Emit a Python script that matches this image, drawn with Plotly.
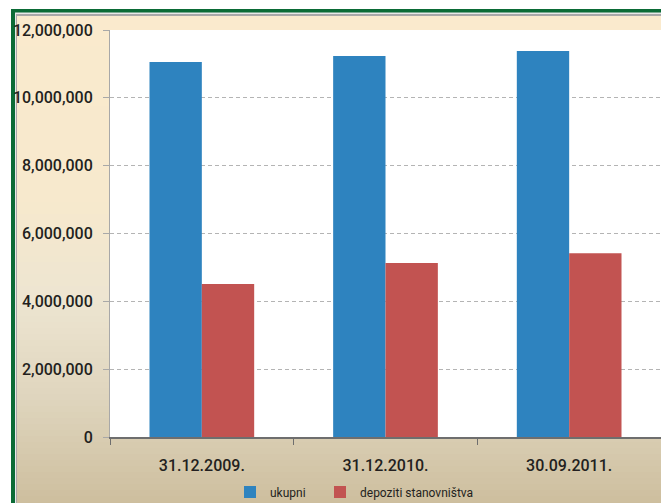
import plotly.graph_objects as go

categories = ["31.12.2009.", "31.12.2010.", "30.09.2011."]
ukupni = [11060000, 11230000, 11380000]
depoziti = [4510000, 5130000, 5420000]
series_names = ["ukupni", "depoziti stanovništva"]
colors = ["#2e83bf", "#c25351"]

W, H = 661, 503
ML, MR, MT, MB = 110, 0, 30, 66
PW, PH = W - ML - MR, H - MT - MB


def px(x):
    return (x - ML) / PW


def py(y):
    return (H - MB - y) / PH


FONT = "Roboto, Liberation Sans, sans-serif"
TXT = "#231f20"

fig = go.Figure()
fig.add_trace(go.Bar(x=categories, y=ukupni, name=series_names[0], marker_color=colors[0],
                     marker_line_width=0, legend="legend"))
fig.add_trace(go.Bar(x=categories, y=depoziti, name=series_names[1], marker_color=colors[1],
                     marker_line_width=0, legend="legend2"))

# background gradient stops (pixel y, rgb)
stops = [(16, (250, 234, 205)), (200, (247, 233, 205)), (300, (237, 229, 209)),
         (400, (223, 213, 189)), (503, (205, 190, 158))]


def col_at(y):
    for (y0, c0), (y1, c1) in zip(stops, stops[1:]):
        if y0 <= y <= y1:
            t = (y - y0) / (y1 - y0)
            return "rgb(%d,%d,%d)" % tuple(round(a + (b - a) * t) for a, b in zip(c0, c1))
    return "rgb(%d,%d,%d)" % stops[-1][1]


shapes = []
shapes.append(dict(type="rect", xref="paper", yref="paper", x0=px(-5), x1=px(W + 5), y0=py(H + 5), y1=py(-5),
                   fillcolor="white", line_width=0, layer="below"))
shapes.append(dict(type="rect", xref="paper", yref="paper", x0=px(11), x1=px(W + 5), y0=py(H + 5), y1=py(9),
                   fillcolor="#0b6b36", line_width=0, layer="below"))
shapes.append(dict(type="rect", xref="paper", yref="paper", x0=px(15), x1=px(W + 5), y0=py(H + 5), y1=py(12.5),
                   fillcolor="#e8e8e8", line_width=0, layer="below"))
shapes.append(dict(type="rect", xref="paper", yref="paper", x0=px(16), x1=px(W + 5), y0=py(H + 5), y1=py(14),
                   fillcolor="#a8a8a8", line_width=0, layer="below"))
step = 6
y = 16
while y < H:
    shapes.append(dict(type="rect", xref="paper", yref="paper", x0=px(17), x1=px(W + 5),
                       y0=py(y + step + 3), y1=py(y), fillcolor=col_at(y + step / 2),
                       line_width=0, layer="below"))
    y += step
shapes.append(dict(type="rect", xref="paper", yref="paper", x0=0, x1=1, y0=0, y1=1,
                   fillcolor="white", line_width=0, layer="below"))

leg_common = dict(orientation="h", xanchor="left", yanchor="middle", y=py(492),
                  font=dict(family=FONT, size=12, color=TXT), bgcolor="rgba(0,0,0,0)",
                  itemwidth=30)

fig.update_layout(
    width=W, height=H,
    margin=dict(l=ML, r=MR, t=MT, b=MB, pad=0, autoexpand=False),
    paper_bgcolor="white",
    plot_bgcolor="rgba(0,0,0,0)",
    barmode="group", bargap=0.43, bargroupgap=0,
    shapes=shapes,
    showlegend=True,
    legend=dict(x=px(230), **leg_common),
    legend2=dict(x=px(320), **leg_common),
    font=dict(family=FONT, color=TXT),
)
fig.update_xaxes(
    type="category", tickson="boundaries", ticks="outside", ticklen=6, tickcolor="#6e6e6e",
    tickwidth=1, showline=True, linecolor="#6e6e6e", linewidth=2, showgrid=False,
    tickfont=dict(family=FONT, size=16, color=TXT, weight=500), ticklabelstandoff=13,
)
fig.update_yaxes(
    range=[0, 12000000], dtick=2000000, tickformat=",", ticks="outside", ticklen=6,
    tickcolor="#a8a8a8", showline=True, linecolor="#a8a8a8", linewidth=1,
    showgrid=True, gridcolor="#b4b4b4", gridwidth=1, griddash="4px,3px", zeroline=False,
    tickfont=dict(family=FONT, size=16, color=TXT, weight=500), ticklabelstandoff=7,
)

fig.write_html("out.html", config={"displayModeBar": False},
               post_script="document.body.style.margin='0';document.body.style.overflow='hidden';")
